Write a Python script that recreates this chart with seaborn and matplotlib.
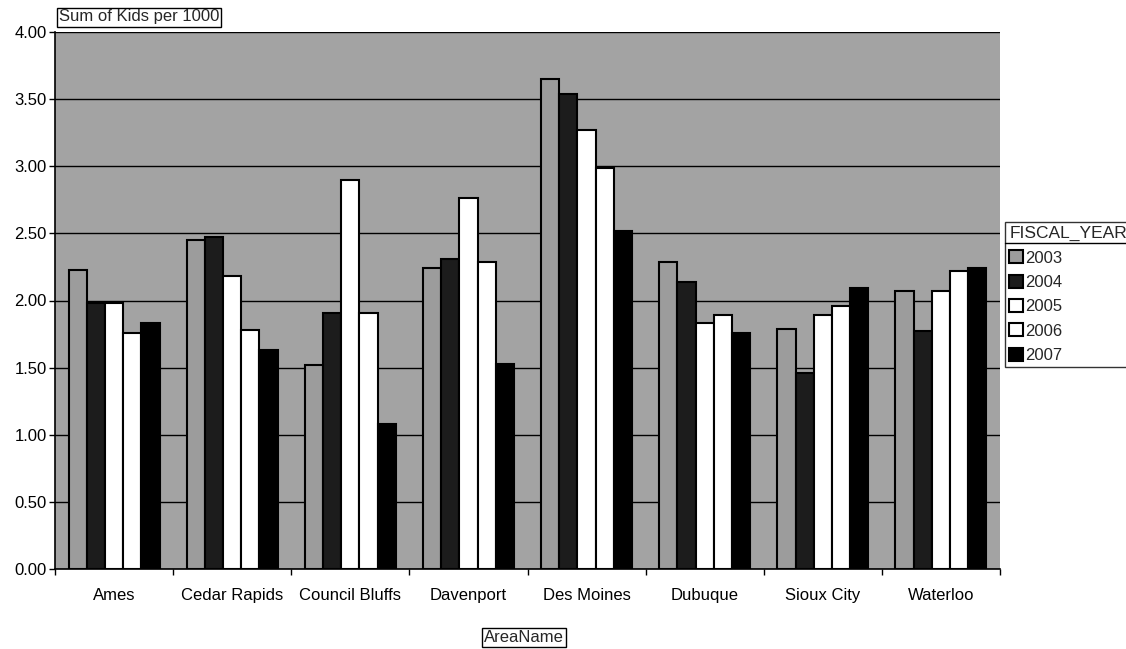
import matplotlib
matplotlib.use("Agg")
import matplotlib.pyplot as plt
import seaborn as sns
import pandas as pd
import numpy as np
from matplotlib.lines import Line2D
from matplotlib.ticker import FixedLocator, NullFormatter

areas = ["Ames", "Cedar Rapids", "Council Bluffs", "Davenport", "Des Moines",
         "Dubuque", "Sioux City", "Waterloo"]
years = ["2003", "2004", "2005", "2006", "2007"]
v2003 = [2.23, 2.45, 1.52, 2.24, 3.65, 2.29, 1.79, 2.07]
v2004 = [1.98, 2.47, 1.91, 2.31, 3.54, 2.14, 1.46, 1.77]
v2005 = [1.98, 2.18, 2.90, 2.76, 3.27, 1.83, 1.89, 2.07]
v2006 = [1.76, 1.78, 1.91, 2.29, 2.99, 1.89, 1.96, 2.22]
v2007 = [1.83, 1.63, 1.08, 1.53, 2.52, 1.76, 2.09, 2.24]
yticks = [0.0, 0.5, 1.0, 1.5, 2.0, 2.5, 3.0, 3.5, 4.0]

series = [v2003, v2004, v2005, v2006, v2007]
rows = []
for y, vals in zip(years, series):
    for a, v in zip(areas, vals):
        rows.append({"AreaName": a, "FISCAL_YEAR": y, "value": v})
df = pd.DataFrame(rows)

sns.set_theme(style="white")
plt.rcParams['font.family'] = ['Liberation Sans', 'DejaVu Sans']

palette = {"2003": "#9c9c9c", "2004": "#1c1c1c", "2005": "#ffffff",
           "2006": "#ffffff", "2007": "#000000"}

fig = plt.figure(figsize=(11.26, 6.49), dpi=100)
ax = fig.add_axes([55/1126, 1-569/649, (1000-55)/1126, (569-32)/649])
ax.set_facecolor("#a3a3a3")
ax.set_axisbelow(True)

sns.barplot(data=df, x="AreaName", y="value", hue="FISCAL_YEAR", palette=palette,
            hue_order=years, order=areas, width=0.77, edgecolor="black",
            linewidth=1.5, errorbar=None, ax=ax, saturation=1)

ax.set_xlim(-0.5, len(areas) - 0.5)
ax.set_ylim(0, 4)
ax.set_yticks(yticks)
ax.set_yticklabels([f"{t:.2f}" for t in yticks], fontsize=12)
ax.yaxis.grid(True, color="black", linewidth=1)
ax.xaxis.grid(False)
ax.tick_params(axis="y", length=4, width=1, direction="out", left=True, colors="black", pad=2)
ax.tick_params(axis="x", which="major", length=0, pad=14, colors="black")
ax.xaxis.set_minor_locator(FixedLocator([i + 0.5 for i in range(-1, len(areas))]))
ax.xaxis.set_minor_formatter(NullFormatter())
ax.tick_params(axis="x", which="minor", length=4, width=1, direction="out", bottom=True, colors="black")
for lbl in ax.get_xticklabels():
    lbl.set_fontsize(12)
ax.set_xlabel("")
ax.set_ylabel("")
for s in ["top", "right"]:
    ax.spines[s].set_visible(False)
for s in ["left", "bottom"]:
    ax.spines[s].set_color("black")
    ax.spines[s].set_linewidth(1.2)

leg = ax.legend(title="FISCAL_YEAR", loc="upper left", bbox_to_anchor=(1005/1126, 1-222/649),
                bbox_transform=fig.transFigure, frameon=True, fancybox=False,
                edgecolor="black", fontsize=12, title_fontsize=12.5,
                handlelength=0.8, handleheight=0.8, handletextpad=0.15,
                labelspacing=0.55, borderpad=0.25, alignment="left", borderaxespad=0)
leg.get_frame().set_linewidth(1)
for h in leg.legend_handles:
    h.set_edgecolor("black")

fig.text(59/1126, 1-17/649, "Sum of Kids per 1000", fontsize=12, ha="left", va="center",
         bbox=dict(boxstyle="square,pad=0.12", facecolor="white", edgecolor="black", linewidth=1))
fig.text(524/1126, 1-637/649, "AreaName", fontsize=12, ha="center", va="center",
         bbox=dict(boxstyle="square,pad=0.12", facecolor="white", edgecolor="black", linewidth=1))

# separator line under legend title
fig.canvas.draw()
fb = leg.get_frame().get_window_extent()
tb = leg.get_title().get_window_extent()
inv = fig.transFigure.inverted()
x0, _ = inv.transform((fb.x0, 0))
x1, _ = inv.transform((fb.x1, 0))
_, ysep = inv.transform((0, tb.y0 - 2))
fig.add_artist(Line2D([x0, x1], [ysep, ysep], color="black", linewidth=1,
                      transform=fig.transFigure))

fig.savefig("out.png", dpi=100, facecolor="white")
